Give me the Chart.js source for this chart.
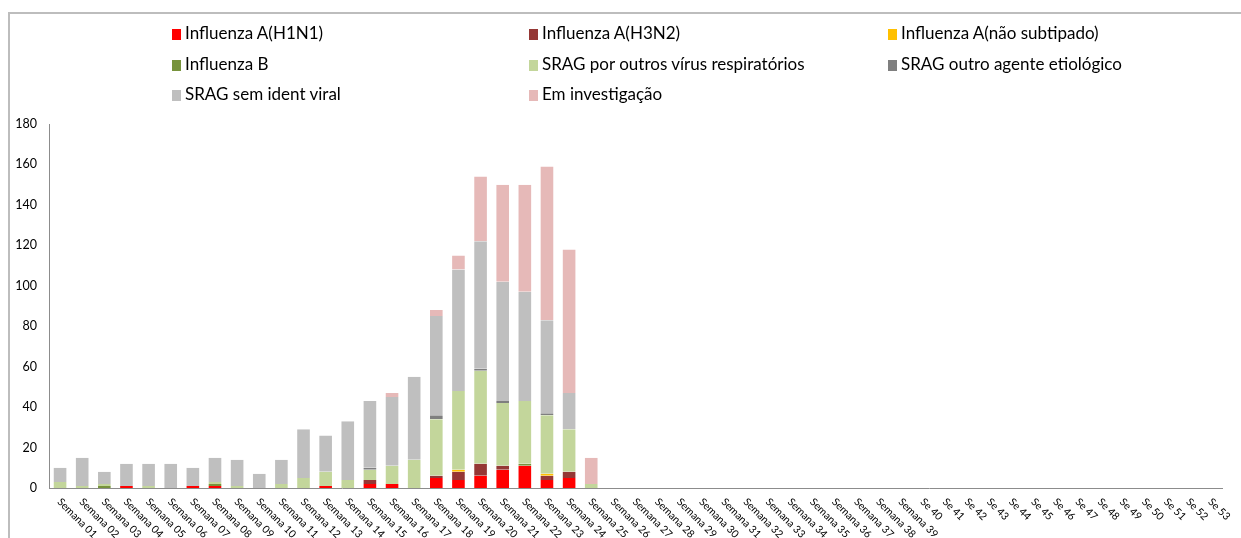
<!DOCTYPE html>
<html>
<head>
<meta charset="utf-8">
<script src="https://cdn.jsdelivr.net/npm/chart.js@4/dist/chart.umd.min.js"></script>
<style>
  body { margin: 0; background: #fff; overflow: hidden; }
  #wrap { position: relative; width: 1241px; height: 538px; }
  #frame { position: absolute; left: 8px; top: 12px; width: 1300px; height: 600px;
           border-left: 2px solid #bdbdbd; border-top: 2px solid #bdbdbd; }
  #legenda { position: absolute; left: 0; top: 0; width: 1241px; height: 110px;
             font-family: Lato, "Liberation Sans", sans-serif; font-size: 17px; color: #000; }
  .item { position: absolute; white-space: nowrap; line-height: 20px; }
  .item span.q { display: inline-block; width: 9px; height: 11px; margin-right: 4px; vertical-align: -1px; }
  canvas { position: absolute; left: 0; top: 0; }
</style>
</head>
<body>
<div id="wrap">
  <div id="frame"></div>
  <canvas id="grafico" width="1241" height="538"></canvas>
  <div id="legenda"></div>
</div>
<script>
// semanas epidemiologicas
var semanas = [];
for (var i = 1; i <= 39; i++) semanas.push('Semana ' + (i < 10 ? '0' + i : i));
for (var j = 40; j <= 53; j++) semanas.push('Se ' + j);

var nomes = ['Influenza A(H1N1)', 'Influenza A(H3N2)', 'Influenza A(não subtipado)',
             'Influenza B', 'SRAG por outros vírus respiratórios', 'SRAG outro agente etiológico',
             'SRAG sem ident viral', 'Em investigação'];
var cores = ['#ff0000', '#953735', '#ffc000', '#77933c', '#c3d69b', '#7f7f7f', '#bfbfbf', '#e6b9b8'];

// valores semana 01 a 25 (o resto e zero)
var h1n1      = [0,0,0,1,0,0,1,1,0,0,0,0,1,0,2,2,0,5,4,6,9,11,4,5,0];
var h3n2      = [0,0,0,0,0,0,0,0,0,0,0,0,0,0,2,0,0,1,4,6,2,0,2,3,0];
var naoSubtip = [0,0,0,0,0,0,0,0,0,0,0,0,0,0,0,0,0,0,1,0,0,0,1,0,0];
var fluB      = [0,0,1,0,0,0,0,1,0,0,0,0,0,0,0,0,0,0,0,0,0,1,0,0,0];
var outrosVir = [3,1,1,0,1,0,0,1,1,0,2,5,7,4,5,9,14,28,39,46,31,31,29,21,2];
var outroAg   = [0,0,0,0,0,0,0,0,0,0,0,0,0,0,1,0,0,2,0,1,1,0,1,0,0];
var semIdent  = [7,14,6,11,11,12,9,12,13,7,12,24,18,29,33,34,41,49,60,63,59,54,46,18,0];
var emInvest  = [0,0,0,0,0,0,0,0,0,0,0,0,0,0,0,2,0,3,7,32,48,53,76,71,13];

var series = [h1n1, h3n2, naoSubtip, fluB, outrosVir, outroAg, semIdent, emInvest];

function completa(arr) {
  var out = arr.slice();
  while (out.length < semanas.length) out.push(0);
  return out;
}

var datasets = [];
for (var k = 0; k < series.length; k++) {
  datasets.push({
    label: nomes[k],
    data: completa(series[k]),
    backgroundColor: cores[k],
    borderColor: 'rgba(255,255,255,0.45)',
    borderWidth: {left: 1, right: 1, top: 0, bottom: 0},
    borderSkipped: false,
    categoryPercentage: 0.66,
    barPercentage: 1
  });
}

// legenda em 3 colunas
var colX = [172, 529, 888];
var rowY = [23, 54, 84];
var leg = document.getElementById('legenda');
for (var m = 0; m < nomes.length; m++) {
  var d = document.createElement('div');
  d.className = 'item';
  d.style.left = colX[m % 3] + 'px';
  d.style.top = rowY[Math.floor(m / 3)] + 'px';
  d.innerHTML = '<span class="q" style="background:' + cores[m] + '"></span>' + nomes[m];
  leg.appendChild(d);
}

// rotulos do eixo x inclinados para baixo
var rotulosX = {
  id: 'rotulosX',
  afterDraw: function(chart) {
    var ctx = chart.ctx;
    var sx = chart.scales.x;
    var base = chart.chartArea.bottom;
    ctx.save();
    ctx.fillStyle = '#000';
    ctx.font = '10.5px Lato, "Liberation Sans", sans-serif';
    ctx.textAlign = 'left';
    ctx.textBaseline = 'middle';
    for (var i = 0; i < semanas.length; i++) {
      var x = sx.getPixelForValue(i);
      ctx.save();
      ctx.translate(x - 1, base + 12);
      ctx.rotate(Math.PI / 4);
      ctx.fillText(semanas[i], 0, 0);
      ctx.restore();
    }
    ctx.restore();
  }
};

var ctx = document.getElementById('grafico');
var chart = new Chart(ctx, {
  type: 'bar',
  data: { labels: semanas, datasets: datasets },
  options: {
    responsive: false,
    animation: false,
    layout: { padding: { top: 124, bottom: 50, right: 19, left: 0 } },
    plugins: { legend: { display: false }, tooltip: { enabled: false } },
    scales: {
      x: {
        stacked: true,
        grid: { display: false },
        border: { color: '#8c8c8c', width: 1 },
        ticks: { display: false },
        afterFit: function(s) { s.height = 0; }
      },
      y: {
        stacked: true,
        min: 0, max: 180,
        grid: { display: false, drawTicks: false },
        border: { color: '#8c8c8c', width: 1 },
        ticks: { stepSize: 20, color: '#000', padding: 12,
                 font: { family: 'Lato, "Liberation Sans", sans-serif', size: 12.5 } },
        afterFit: function(s) { s.width = 49; }
      }
    }
  },
  plugins: [rotulosX]
});
</script>
</body>
</html>
